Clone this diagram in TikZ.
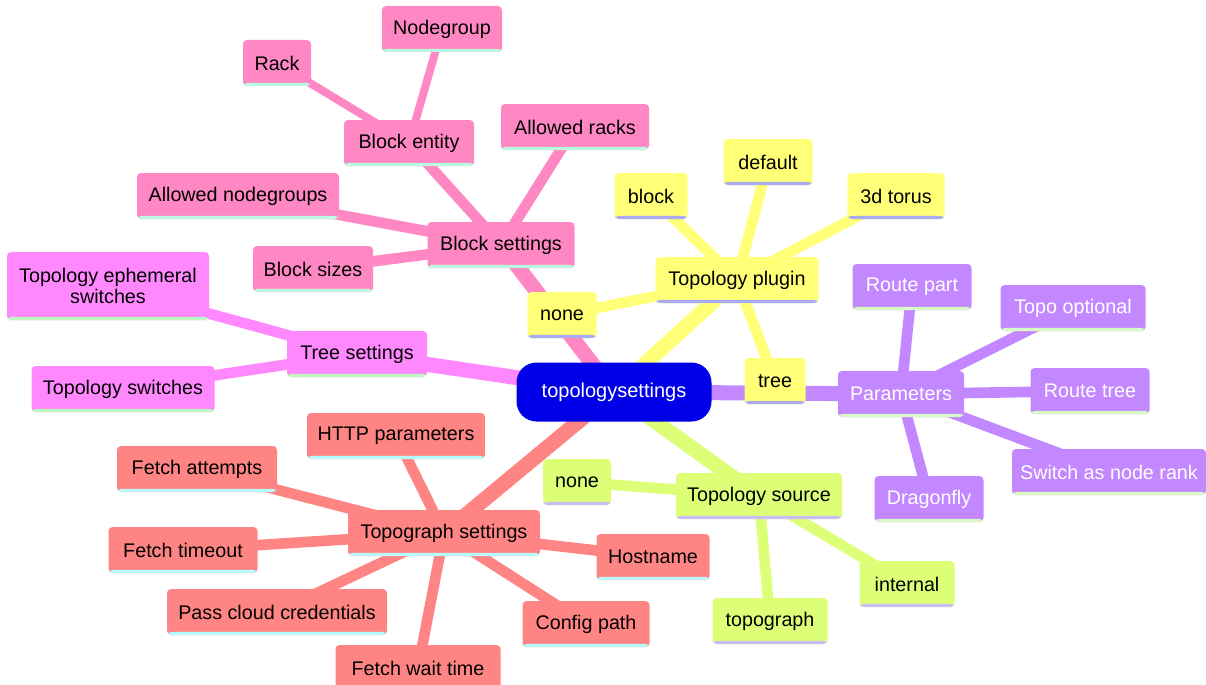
\documentclass[tikz,border=0pt]{standalone}
\usepackage{fontspec}
\setmainfont{Liberation Sans}
\usetikzlibrary{backgrounds}
\definecolor{rootF}{RGB}{0,0,232}
\definecolor{pinkF}{RGB}{255,136,196}
\definecolor{pinkU}{RGB}{185,250,225}
\definecolor{yelF}{RGB}{255,255,120}
\definecolor{yelU}{RGB}{170,170,240}
\definecolor{purF}{RGB}{195,136,255}
\definecolor{purU}{RGB}{216,250,196}
\definecolor{magF}{RGB}{255,136,255}
\definecolor{magU}{RGB}{190,250,190}
\definecolor{salF}{RGB}{255,133,133}
\definecolor{salU}{RGB}{185,250,250}
\definecolor{limF}{RGB}{221,255,120}
\definecolor{limU}{RGB}{200,190,245}
\tikzset{
  bw/.style={minimum width={#1*0.75pt}},
  bh/.style={minimum height={#1*0.75pt}},
  mbox/.style={rectangle, rounded corners=3pt, inner xsep=4pt, inner ysep=0pt,
    minimum height=34.5pt, font=\fontsize{14.8}{15.5}\selectfont, text=black, align=center},
  ubox/.style 2 args={mbox, fill=#1, path picture={\fill[#2]
     ([yshift=2.3pt]path picture bounding box.south west) rectangle
     (path picture bounding box.south east);}},
  pinkn/.style={ubox={pinkF}{pinkU}},
  yeln/.style={ubox={yelF}{yelU}},
  purn/.style={ubox={purF}{purU}, text=white},
  magn/.style={ubox={magF}{magU}},
  saln/.style={ubox={salF}{salU}},
  limn/.style={ubox={limF}{limU}},
  e0/.style={line width=11.25pt},
  e1/.style={line width=8pt},
  e2/.style={line width=6pt},
}
\begin{document}
\begin{tikzpicture}[x=0.75pt,y=-0.75pt]
\useasboundingbox (0,0) rectangle (1206,685);
\clip (0,0) rectangle (1206,685);
% root
\node[rectangle, rounded corners=15pt, fill=rootF, text=white, minimum width={195*0.75pt},
  minimum height={59*0.75pt}, font=\fontsize{15}{16}\selectfont] (root) at (614,392) {topologysettings};
% pink
\node[pinkn, bw=147] (bs) at (501,245) {Block settings};
\node[pinkn, bw=130] (be) at (409,143) {Block entity};
\node[pinkn, bw=68] (rack) at (277,63) {Rack};
\node[pinkn, bw=120] (ng) at (442,29) {Nodegroup};
\node[pinkn, bw=148] (ar) at (575,127) {Allowed racks};
\node[pinkn, bw=202] (an) at (238,196) {Allowed nodegroups};
\node[pinkn, bw=120] (bsz) at (313,269) {Block sizes};
% yellow
\node[yeln, bw=163] (tp) at (737,280) {Topology plugin};
\node[yeln, bw=73] (blk) at (651,196) {block};
\node[yeln, bw=89] (def) at (768,162) {default};
\node[yeln, bw=97] (tor) at (896,196) {3d torus};
\node[yeln, bw=69] (nonea) at (562,315) {none};
\node[yeln, bw=61] (tree) at (775,381) {tree};
% purple
\node[purn, bw=126] (par) at (901,394) {Parameters};
\node[purn, bw=119] (rp) at (912,287) {Route part};
\node[purn, bw=145] (to) at (1073,308) {Topo optional};
\node[purn, bw=119] (rt) at (1090,391) {Route tree};
\node[purn, bw=194] (sw) at (1109,472) {Switch as node rank};
\node[purn, bw=109] (dr) at (929,499) {Dragonfly};
% magenta
\node[magn, bw=202, bh=68] (tes) at (108,286) {Topology ephemeral\\switches};
\node[magn, bw=140] (ts) at (357,354) {Tree settings};
\node[magn, bw=183] (tsw) at (123,389) {Topology switches};
% lime
\node[limn, bw=166] (tsrc) at (759,496) {Topology source};
\node[limn, bw=68] (noneb) at (577,482) {none};
\node[limn, bw=95] (int) at (907,584) {internal};
\node[limn, bw=115] (tg) at (770,621) {topograph};
% salmon
\node[saln, bw=192] (tgs) at (444,533) {Topograph settings};
\node[saln, bw=178] (http) at (396,436) {HTTP parameters};
\node[saln, bw=160] (fa) at (197,469) {Fetch attempts};
\node[saln, bw=149] (ft) at (183,550) {Fetch timeout};
\node[saln, bw=113] (hn) at (653,557) {Hostname};
\node[saln, bw=220] (pcc) at (277,612) {Pass cloud credentials};
\node[saln, bw=127] (cp) at (586,624) {Config path};
\node[saln, bw=165] (fwt) at (418,668) {Fetch wait time};
\begin{scope}[on background layer]
% root edges
\draw[e0, pinkF] (root.center) -- (bs.center);
\draw[e0, yelF] (root.center) -- (tp.center);
\draw[e0, purF] (root.center) -- (par.center);
\draw[e0, limF] (root.center) -- (tsrc.center);
\draw[e0, salF] (root.center) -- (tgs.center);
\draw[e0, magF] (root.center) -- (ts.center);
% pink
\draw[e1, pinkF] (bs.center) -- (be.center);
\draw[e1, pinkF] (bs.center) -- (ar.center);
\draw[e1, pinkF] (bs.center) -- (an.center);
\draw[e1, pinkF] (bs.center) -- (bsz.center);
\draw[e2, pinkF] (be.center) -- (rack.center);
\draw[e2, pinkF] (be.center) -- (ng.center);
% yellow
\draw[e1, yelF] (tp.center) -- (blk.center);
\draw[e1, yelF] (tp.center) -- (def.center);
\draw[e1, yelF] (tp.center) -- (tor.center);
\draw[e1, yelF] (tp.center) -- (nonea.center);
\draw[e1, yelF] (tp.center) -- (tree.center);
% purple
\draw[e1, purF] (par.center) -- (rp.center);
\draw[e1, purF] (par.center) -- (to.center);
\draw[e1, purF] (par.center) -- (rt.center);
\draw[e1, purF] (par.center) -- (sw.center);
\draw[e1, purF] (par.center) -- (dr.center);
% magenta
\draw[e1, magF] (ts.center) -- (tes.center);
\draw[e1, magF] (ts.center) -- (tsw.center);
% lime
\draw[e1, limF] (tsrc.center) -- (noneb.center);
\draw[e1, limF] (tsrc.center) -- (int.center);
\draw[e1, limF] (tsrc.center) -- (tg.center);
% salmon
\draw[e1, salF] (tgs.center) -- (http.center);
\draw[e1, salF] (tgs.center) -- (fa.center);
\draw[e1, salF] (tgs.center) -- (ft.center);
\draw[e1, salF] (tgs.center) -- (hn.center);
\draw[e1, salF] (tgs.center) -- (pcc.center);
\draw[e1, salF] (tgs.center) -- (cp.center);
\draw[e1, salF] (tgs.center) -- (fwt.center);
\end{scope}
\end{tikzpicture}
\end{document}
